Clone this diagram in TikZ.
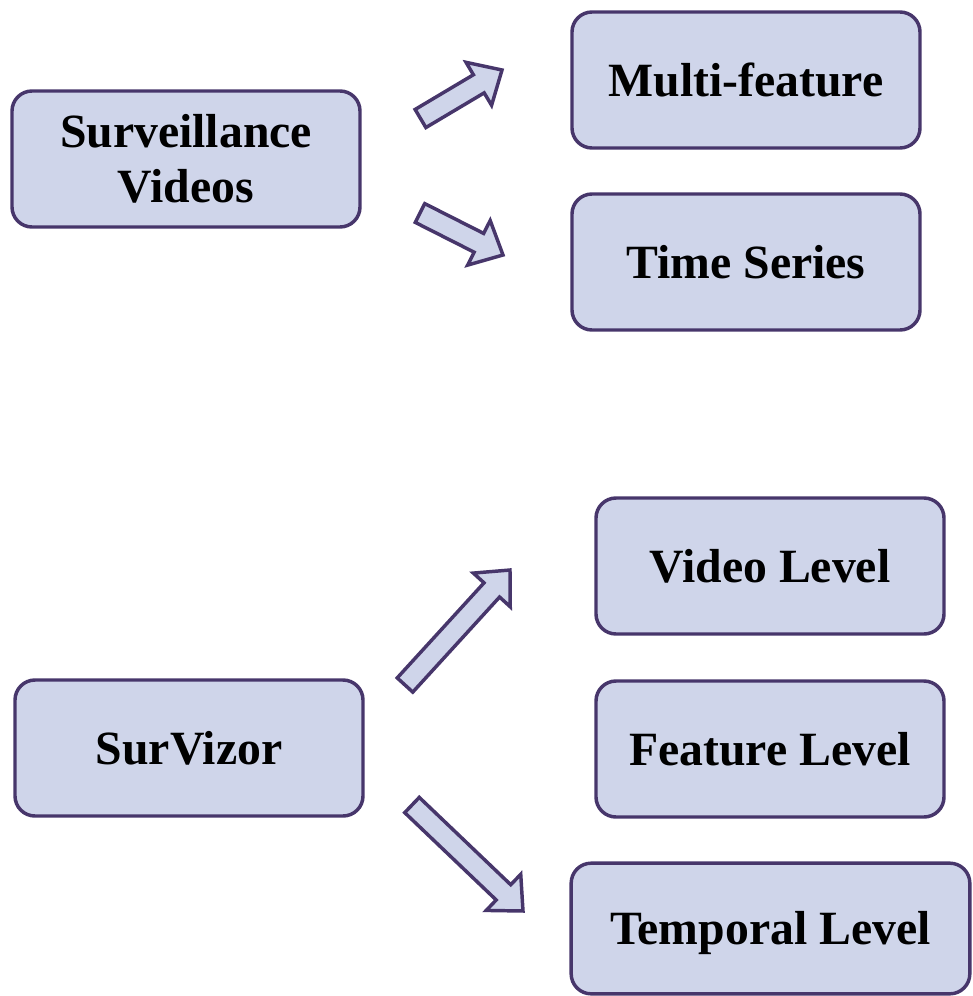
\documentclass[tikz,border=0pt]{standalone}
\usepackage{fontspec}
\setmainfont{Liberation Serif}
\usetikzlibrary{calc}
\definecolor{boxfill}{HTML}{CFD5EA}
\definecolor{boxline}{HTML}{47366B}
\tikzset{
  box/.style={draw=boxline, fill=boxfill, line width=2.6pt, rounded corners=15pt,
    minimum width=261pt, minimum height=102pt, inner sep=0pt, align=center,
    font=\fontsize{35.8}{41}\selectfont\bfseries},
  oneline/.style={text height=24pt, text depth=0pt},
  blockarr/.style={draw=boxline, fill=boxfill, line width=2.6pt, line join=miter}
}
\newcommand\blockarrow[2]{%
  \coordinate (b#1) at ($(#2)!20.25pt!(#1)$);
  \path[blockarr]
    ($(#1)!7.9pt!90:(#2)$) -- ($(b#1)!7.9pt!90:(#2)$) -- ($(b#1)!18.75pt!90:(#2)$)
    -- (#2) -- ($(b#1)!18.75pt!-90:(#2)$) -- ($(b#1)!7.9pt!-90:(#2)$)
    -- ($(#1)!7.9pt!-90:(#2)$) -- cycle;}
\begin{document}
\begin{tikzpicture}[x=0.75pt,y=-0.75pt]
\useasboundingbox (0,0) rectangle (972,996);
\node[box] (sv) at (186,159) {Surveillance\\Videos};
\node[box, oneline] (mf) at (746,80) {Multi-feature};
\node[box, oneline] (ts) at (746,262) {Time Series};
\node[box, oneline] (sz) at (189,748) {SurVizor};
\node[box, oneline] (vl) at (770,566) {Video Level};
\node[box, oneline] (fl) at (770,749) {Feature Level};
\node[box, oneline, minimum width=299pt, minimum height=98pt] (tl) at (770.5,928.5) {Temporal Level};
\coordinate (t1) at (420.5,118.5); \coordinate (h1) at (502,70);
\coordinate (t2) at (420,213);     \coordinate (h2) at (503,255);
\coordinate (t3) at (405,685);     \coordinate (h3) at (510,570);
\coordinate (t4) at (412,805);     \coordinate (h4) at (523,911);
\blockarrow{t1}{h1}
\blockarrow{t2}{h2}
\blockarrow{t3}{h3}
\blockarrow{t4}{h4}
\end{tikzpicture}
\end{document}
